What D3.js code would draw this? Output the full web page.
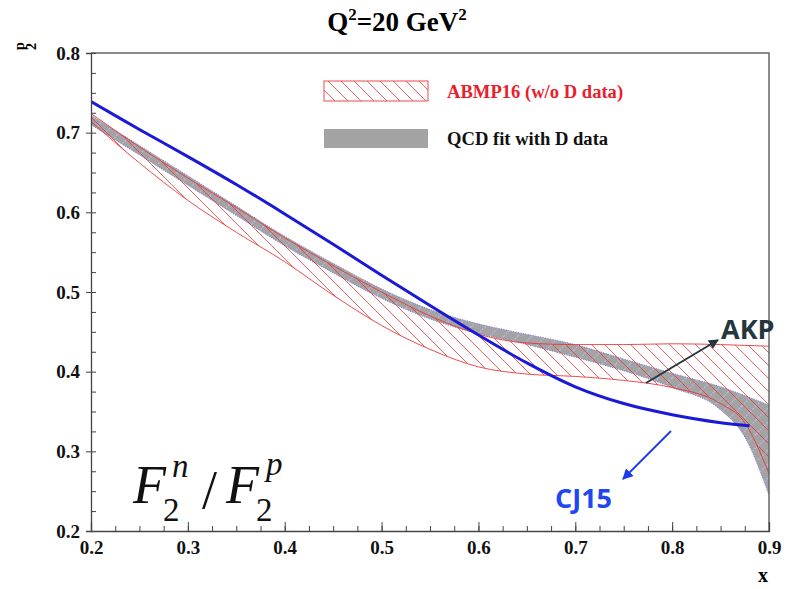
<!DOCTYPE html>
<html>
<head>
<meta charset="utf-8">
<script src="https://cdn.jsdelivr.net/npm/d3@7"></script>
<style>
  body { margin: 0; background: #fff; }
  svg { display: block; }
  .tick text { font-family: "Liberation Serif", serif; font-weight: bold; font-size: 19px; fill: #111; }
  .serif { font-family: "Liberation Serif", serif; }
</style>
</head>
<body>
<div id="vis"></div>
<script>
// x grid shared by the bands
var xs = [0.20, 0.25, 0.30, 0.35, 0.40, 0.45, 0.50, 0.55, 0.60, 0.65, 0.70, 0.75, 0.80, 0.85, 0.875, 0.90];

// QCD fit with D data (grey band)
var qcdLo = [0.710, 0.672, 0.634, 0.596, 0.558, 0.524, 0.492, 0.466, 0.448, 0.434, 0.418, 0.401, 0.380, 0.352, 0.318, 0.245];
var qcdHi = [0.722, 0.684, 0.646, 0.608, 0.570, 0.536, 0.504, 0.478, 0.460, 0.447, 0.434, 0.416, 0.398, 0.381, 0.370, 0.358];

// ABMP16 (w/o D data), hatched band
var abmpLo = [0.714, 0.662, 0.615, 0.575, 0.538, 0.496, 0.458, 0.428, 0.406, 0.397, 0.394, 0.389, 0.380, 0.360, 0.336, 0.272];
var abmpHi = [0.724, 0.682, 0.643, 0.606, 0.568, 0.533, 0.500, 0.470, 0.447, 0.436, 0.434, 0.434, 0.435, 0.434, 0.433, 0.432];

// CJ15 curve
var cjX = [0.20, 0.25, 0.30, 0.35, 0.40, 0.45, 0.50, 0.55, 0.60, 0.65, 0.70, 0.75, 0.80, 0.85, 0.88];
var cjY = [0.739, 0.704, 0.670, 0.635, 0.598, 0.560, 0.521, 0.483, 0.446, 0.411, 0.381, 0.360, 0.346, 0.336, 0.332];

var xTicks = [0.2, 0.3, 0.4, 0.5, 0.6, 0.7, 0.8, 0.9];
var yTicks = [0.2, 0.3, 0.4, 0.5, 0.6, 0.7, 0.8];

var width = 789, height = 589;
var margin = {top: 53, right: 20, bottom: 58, left: 91};

var svg = d3.select("#vis").append("svg")
  .attr("width", width)
  .attr("height", height);

var x = d3.scaleLinear().domain([0.2, 0.9]).range([margin.left, width - margin.right]);
var y = d3.scaleLinear().domain([0.2, 0.8]).range([height - margin.bottom, margin.top]);

// patterns for the bands
var defs = svg.append("defs");
var hatch = defs.append("pattern")
  .attr("id", "redHatch")
  .attr("patternUnits", "userSpaceOnUse")
  .attr("width", 13).attr("height", 13);
hatch.append("path")
  .attr("d", "M0,0 L13,13 M-3,10 L3,16 M10,-3 L16,3")
  .attr("stroke", "#e8393a").attr("stroke-width", 0.8).attr("fill", "none");

var dots = defs.append("pattern")
  .attr("id", "blueDots")
  .attr("patternUnits", "userSpaceOnUse")
  .attr("width", 14).attr("height", 14);
dots.append("path")
  .attr("d", "M0,14 L14,0 M-3,3 L3,-3 M11,17 L17,11")
  .attr("stroke", "#b8b8f0").attr("stroke-width", 1.3).attr("stroke-dasharray", "1.5,1.5").attr("fill", "none");

var clip = defs.append("clipPath").attr("id", "plotClip");
clip.append("rect")
  .attr("x", margin.left).attr("y", margin.top)
  .attr("width", width - margin.left - margin.right)
  .attr("height", height - margin.top - margin.bottom);

var area = function(lo, hi) {
  return d3.area()
    .x(function(d, i) { return x(xs[i]); })
    .y0(function(d, i) { return y(lo[i]); })
    .y1(function(d, i) { return y(hi[i]); })
    .curve(d3.curveMonotoneX)(xs);
};
var edge = function(vals) {
  return d3.line()
    .x(function(d, i) { return x(xs[i]); })
    .y(function(d, i) { return y(vals[i]); })
    .curve(d3.curveMonotoneX)(xs);
};

var plot = svg.append("g").attr("clip-path", "url(#plotClip)");

// grey band with its blue dotted overlay
plot.append("path").attr("d", area(qcdLo, qcdHi)).attr("fill", "#a3a3a3");
plot.append("path").attr("d", area(qcdLo, qcdHi)).attr("fill", "url(#blueDots)");
[qcdLo, qcdHi].forEach(function(v) {
  plot.append("path").attr("d", edge(v))
    .attr("fill", "none").attr("stroke", "#7c7cd6").attr("stroke-width", 1)
    .attr("stroke-dasharray", "1,1.5");
});

// red hatched band
plot.append("path").attr("d", area(abmpLo, abmpHi)).attr("fill", "url(#redHatch)");
[abmpLo, abmpHi].forEach(function(v) {
  plot.append("path").attr("d", edge(v))
    .attr("fill", "none").attr("stroke", "#e8393a").attr("stroke-width", 0.9);
});

// CJ15
plot.append("path")
  .attr("d", d3.line()
    .x(function(d, i) { return x(cjX[i]); })
    .y(function(d) { return y(d); })
    .curve(d3.curveCatmullRom)(cjY))
  .attr("fill", "none").attr("stroke", "#1a1ad6").attr("stroke-width", 3);

// frame: top and right
svg.append("path")
  .attr("d", "M" + margin.left + "," + margin.top + " H" + (width - margin.right) + " V" + (height - margin.bottom))
  .attr("fill", "none").attr("stroke", "#666").attr("stroke-width", 1.5);

// axes
var minorX = d3.range(0.2, 0.9001, 0.025);
var minorY = d3.range(0.2, 0.8001, 0.025);

svg.append("g")
  .attr("transform", "translate(0," + y(0.2) + ")")
  .call(d3.axisBottom(x).tickValues(minorX).tickSize(-5).tickFormat(""))
  .call(function(g) { g.selectAll("line").attr("stroke", "#444"); g.select(".domain").remove(); });
svg.append("g")
  .attr("transform", "translate(0," + y(0.2) + ")")
  .call(d3.axisBottom(x).tickValues(xTicks).tickSize(-9).tickPadding(10).tickFormat(d3.format(".1f")))
  .call(function(g) { g.selectAll("line").attr("stroke", "#444"); g.select(".domain").attr("stroke", "#444").attr("stroke-width", 1.3); });

svg.append("g")
  .attr("transform", "translate(" + x(0.2) + ",0)")
  .call(d3.axisRight(y).tickValues(minorY).tickSize(5).tickFormat(""))
  .call(function(g) { g.selectAll("line").attr("stroke", "#444"); g.select(".domain").remove(); });
svg.append("g")
  .attr("transform", "translate(" + x(0.2) + ",0)")
  .call(d3.axisLeft(y).tickValues(yTicks).tickSize(5).tickPadding(6).tickFormat(d3.format(".1f")))
  .call(function(g) { g.selectAll("line").attr("stroke", "#444"); g.select(".domain").attr("stroke", "#444").attr("stroke-width", 1.3); });

// axis titles
svg.append("text").attr("class", "serif")
  .attr("x", 763).attr("y", 582)
  .attr("text-anchor", "middle")
  .style("font-weight", "bold").style("font-size", "20px")
  .text("x");

var ylab = svg.append("g").attr("class", "serif").attr("transform", "translate(28,50) rotate(-90)")
  .style("font-weight", "bold");
ylab.append("text").attr("x", 0).attr("y", -4).style("font-size", "14px").text("p");
ylab.append("text").attr("x", 0).attr("y", 8).style("font-size", "14px").text("2");

// title
var title = svg.append("text").attr("class", "serif")
  .attr("x", 397).attr("y", 31)
  .attr("text-anchor", "middle")
  .style("font-weight", "bold").style("font-size", "27px");
title.append("tspan").text("Q");
title.append("tspan").attr("dy", -11).style("font-size", "17px").text("2");
title.append("tspan").attr("dy", 11).text("=20 GeV");
title.append("tspan").attr("dy", -11).style("font-size", "17px").text("2");

// legend
var legend = svg.append("g").attr("class", "serif")
  .style("font-weight", "bold").style("font-size", "18.6px");
legend.append("rect")
  .attr("x", 324).attr("y", 81).attr("width", 104).attr("height", 20)
  .attr("fill", "url(#redHatch)").attr("stroke", "#e8393a").attr("stroke-width", 0.9);
legend.append("text").attr("x", 447).attr("y", 98).attr("fill", "#e8202a").text("ABMP16 (w/o D data)");
legend.append("rect")
  .attr("x", 324).attr("y", 129).attr("width", 104).attr("height", 19)
  .attr("fill", "#a3a3a3");
legend.append("text").attr("x", 447).attr("y", 145).attr("fill", "#111").text("QCD fit with D data");

// F2n/F2p label
var ratio = svg.append("g").attr("class", "serif").attr("fill", "#111");
ratio.append("text").attr("x", 133).attr("y", 503).style("font-size", "54px").style("font-style", "italic").text("F");
ratio.append("text").attr("x", 163).attr("y", 521).style("font-size", "33px").text("2");
ratio.append("text").attr("x", 172).attr("y", 477).style("font-size", "33px").style("font-style", "italic").text("n");
ratio.append("text").attr("x", 202).attr("y", 508).style("font-size", "54px").text("/");
ratio.append("text").attr("x", 226).attr("y", 503).style("font-size", "54px").style("font-style", "italic").text("F");
ratio.append("text").attr("x", 256).attr("y", 521).style("font-size", "33px").text("2");
ratio.append("text").attr("x", 266).attr("y", 475).style("font-size", "33px").style("font-style", "italic").text("p");

// annotations
defs.append("marker").attr("id", "arrDark")
  .attr("viewBox", "0 0 10 10").attr("refX", 9).attr("refY", 5)
  .attr("markerWidth", 5).attr("markerHeight", 5).attr("orient", "auto")
  .append("path").attr("d", "M0,0 L10,5 L0,10 z").attr("fill", "#26363f");
defs.append("marker").attr("id", "arrBlue")
  .attr("viewBox", "0 0 10 10").attr("refX", 9).attr("refY", 5)
  .attr("markerWidth", 6).attr("markerHeight", 6).attr("orient", "auto")
  .append("path").attr("d", "M0,0 L10,5 L0,10 z").attr("fill", "#1a3bf0");

svg.append("line")
  .attr("x1", 646).attr("y1", 383).attr("x2", 718).attr("y2", 340)
  .attr("stroke", "#26363f").attr("stroke-width", 2).attr("marker-end", "url(#arrDark)");
svg.append("text")
  .attr("x", 721).attr("y", 339)
  .style("font-family", "Open Sans, sans-serif").style("font-weight", "bold").style("font-size", "27px")
  .attr("fill", "#26363f").text("AKP");

svg.append("line")
  .attr("x1", 671).attr("y1", 431).attr("x2", 623).attr("y2", 479)
  .attr("stroke", "#1a3bf0").attr("stroke-width", 1.8).attr("marker-end", "url(#arrBlue)");
svg.append("text")
  .attr("x", 555).attr("y", 508)
  .style("font-family", "Open Sans, sans-serif").style("font-weight", "bold").style("font-size", "27px")
  .attr("fill", "#1f47f0").text("CJ15");
</script>
</body>
</html>
